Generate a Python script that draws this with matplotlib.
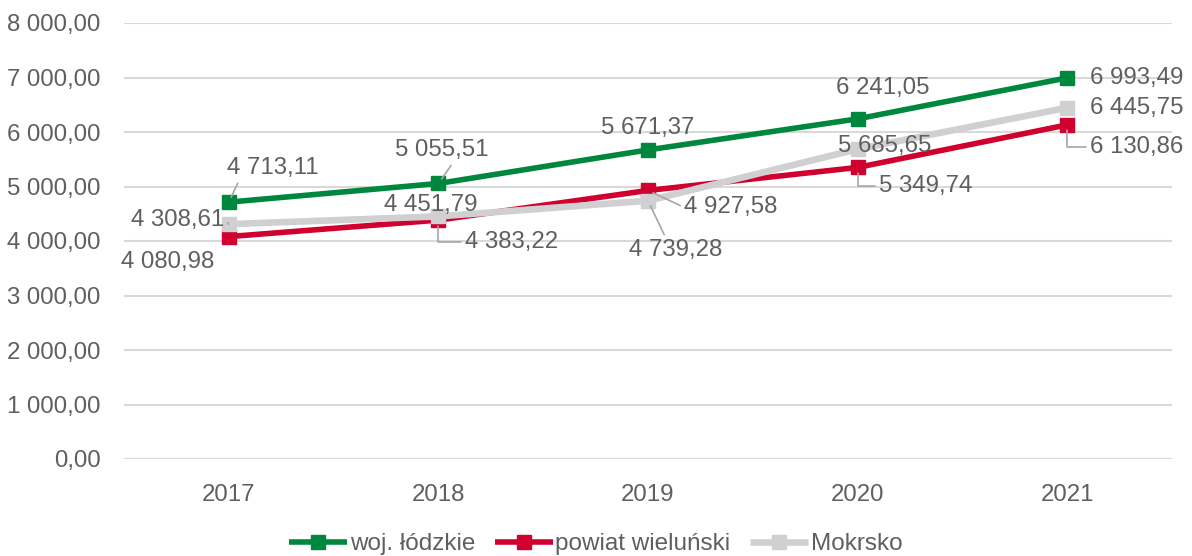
import matplotlib.pyplot as plt
from matplotlib.ticker import FuncFormatter

years = ["2017", "2018", "2019", "2020", "2021"]
lodzkie = [4713.11, 5055.51, 5671.37, 6241.05, 6993.49]
wielunski = [4080.98, 4383.22, 4927.58, 5349.74, 6130.86]
mokrsko = [4308.61, 4451.79, 4739.28, 5685.65, 6445.75]

names = ["woj. łódzkie", "powiat wieluński", "Mokrsko"]
colors = ["#00873E", "#D0002F", "#D0D0D2"]

# label offsets in pixels: (dx, dy, leader relpos or None, elbow)
offsets = [
    [(44, 34, (0.15, 0.1), False), (3, 33, (0.65, 0.1), False), (0, 22, None, False),
     (25, 31, None, False), (23, 0, None, False)],
    [(-61, -25, None, False), (73, -22, (0, 0.5), True), (83, -17, (0, 0.5), False),
     (68, -19, (0, 0.5), True), (23, -22, (0, 0.5), True)],
    [(-51, 4, (1.02, 0.5), False), (-8, 11, None, False), (28, -49, (0.4, 0.95), False),
     (27, 3, None, False), (23, 0, None, False)],
]

plt.rcParams['font.family'] = ['Liberation Sans', 'DejaVu Sans']
text_col = "#5F5F5F"
fs = 17.3


def fmt(v):
    s = f"{v:,.2f}"
    return s.replace(",", " ").replace(".", ",")


fig = plt.figure(figsize=(11.92, 5.56), dpi=100)
ax = fig.add_axes([124 / 1192, 97 / 556, 1048 / 1192, 436 / 556])

x = list(range(len(years)))
series = [lodzkie, wielunski, mokrsko]
widths = [4.0, 4.0, 4.8]
for vals, name, col, lw in zip(series, names, colors, widths):
    ax.plot(x, vals, color=col, lw=lw, marker="s", ms=10.5, mec=col,
            label=name, solid_capstyle="butt")

for i, (vals, offs) in enumerate(zip(series, offsets)):
    for j, v in enumerate(vals):
        dx, dy, rel, elbow = offs[j]
        ha = "left" if j == 4 else "center"
        props = None
        if rel is not None:
            props = dict(arrowstyle="-", color="#A6A6A6", lw=1.2,
                         shrinkA=1, shrinkB=4, relpos=rel)
            if elbow:
                props["connectionstyle"] = "angle,angleA=0,angleB=90,rad=0"
        ax.annotate(fmt(v), (j, v), xytext=(dx, dy), textcoords="offset pixels",
                    ha=ha, va="center", fontsize=fs, color=text_col,
                    arrowprops=props, zorder=5)

ax.set_xlim(-0.5, 4.5)
ax.set_ylim(0, 8000)
ax.set_yticks(range(0, 8001, 1000))
ax.yaxis.set_major_formatter(FuncFormatter(lambda v, p: fmt(v)))
ax.set_xticks(x)
ax.set_xticklabels(years)
ax.tick_params(axis="both", length=0, labelsize=fs, labelcolor=text_col)
ax.tick_params(axis="y", pad=17)
ax.tick_params(axis="x", pad=18)
ax.grid(axis="y", color="#D9D9D9", lw=1.5)
ax.set_axisbelow(True)
for s in ax.spines.values():
    s.set_visible(False)

leg = ax.legend(loc="center", bbox_to_anchor=(0.45, -0.195), ncol=3, frameon=False,
                fontsize=17.5, handlelength=2.4, handletextpad=0.1, columnspacing=0.8)
for t in leg.get_texts():
    t.set_color(text_col)

fig.savefig("out.png", dpi=100)
